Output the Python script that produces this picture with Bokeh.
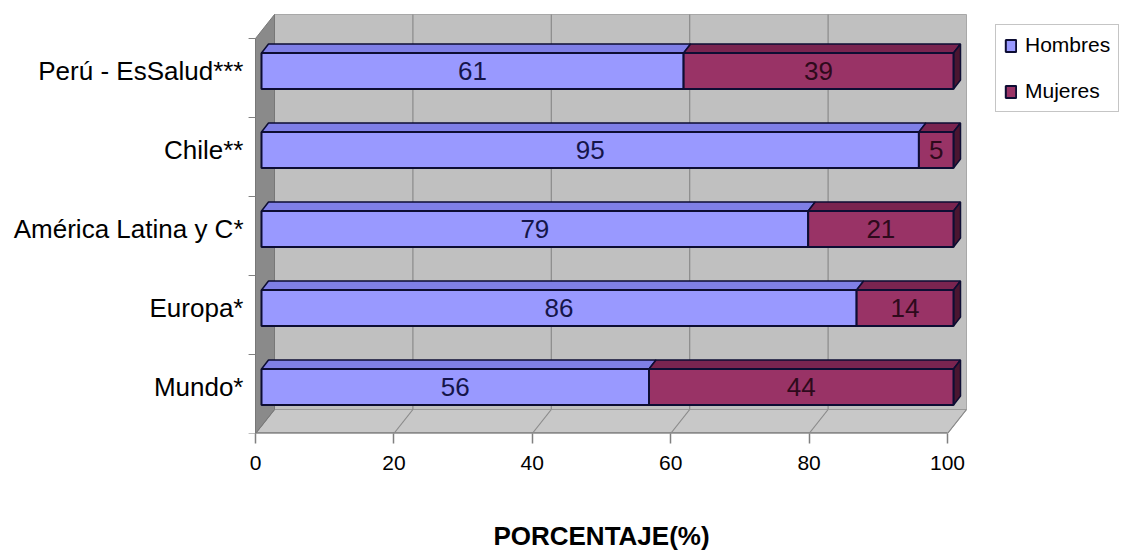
from bokeh.plotting import figure
from bokeh.models import Range1d, FixedTicker, Legend, LegendItem
from bokeh.layouts import column
from bokeh.embed import file_html
from bokeh.resources import INLINE
from bokeh.core.properties import value

# ---------------- data ----------------
categories = ["Mundo*", "Europa*", "América Latina y C*", "Chile**", "Perú - EsSalud***"]
hombres = [56, 86, 79, 95, 61]
mujeres = [44, 14, 21, 5, 39]
x_ticks = [0, 20, 40, 60, 80, 100]
series_names = ["Hombres", "Mujeres"]
x_title = "PORCENTAJE(%)"

# ---------------- style ----------------
FONT = "'Liberation Sans Narrow', 'Arial Narrow', 'Liberation Sans', sans-serif"
C_H, C_H_TOP = "#9999ff", "#7f7fe6"
C_M, C_M_TOP, C_M_SIDE = "#993366", "#7a2450", "#4a1530"
EDGE = "#0d0d33"

W, H = 1123, 554
MAIN_H = 483
LEFT_PAD, BOTTOM_PAD = 246, 50
PX_X, PX_Y = 6.92, 79.0          # pixels per unit
x_start = -(255 - LEFT_PAD) / PX_X
x_end = x_start + (W - LEFT_PAD) / PX_X
y_start = -0.5 - 7 / PX_Y
y_end = y_start + (MAIN_H - BOTTOM_PAD) / PX_Y

WX, WY = 19 / PX_X, 24 / PX_Y    # wall depth
BX = 6 / PX_X                    # bar face shift
BH = 36 / PX_Y                   # bar face height
DX, DY = 7 / PX_X, 9 / PX_Y      # bar depth

n = len(categories)
ys = list(range(n))
fb, ft = y_start, y_start + n    # front plane bottom/top
vmax = x_ticks[-1]

xr = Range1d(x_start, x_end)
p = figure(width=W, height=MAIN_H, x_range=xr, y_range=Range1d(y_start, y_end),
           output_backend="svg", toolbar_location=None,
           min_border_left=LEFT_PAD, min_border_right=0, min_border_top=0,
           min_border_bottom=BOTTOM_PAD)
p.xgrid.visible = False
p.ygrid.visible = False
p.outline_line_color = None
p.background_fill_color = "white"

# back wall
p.quad(left=WX, right=vmax + WX, bottom=fb + WY, top=ft + WY, fill_color="#c0c0c0", line_color="#a8a8a8")
inner = x_ticks[1:-1]
p.segment(x0=[v + WX for v in inner], y0=[fb + WY] * len(inner), x1=[v + WX for v in inner],
          y1=[ft + WY] * len(inner), line_color="#8a8a8a", line_width=1.2)
# floor
p.patch([0, vmax, vmax + WX, WX], [fb, fb, fb + WY, fb + WY], fill_color="#c8c8c8", line_color="#9a9a9a")
p.segment(x0=x_ticks, y0=[fb] * len(x_ticks), x1=[v + WX for v in x_ticks], y1=[fb + WY] * len(x_ticks),
          line_color="#8a8a8a", line_width=1.2)
p.segment(x0=[0], y0=[fb], x1=[vmax], y1=[fb], line_color="#8a8a8a", line_width=3)
# left wall
p.patch([0, WX, WX, 0], [fb, fb + WY, ft + WY, ft], fill_color="#8a8a8a", line_color="#777777")
# category separator ticks
p.segment(x0=[-1.0] * (n + 1), y0=[fb + k for k in range(n + 1)], x1=[0] * (n + 1),
          y1=[fb + k for k in range(n + 1)], line_color="#808080", line_width=1.2)

# bars
tot = [h + m for h, m in zip(hombres, mujeres)]
h_left = [BX] * n
h_right = [BX + h for h in hombres]
m_left = h_right
m_right = [BX + t for t in tot]

def top_faces(lefts, rights):
    xs = [[l, r, r + DX, l + DX] for l, r in zip(lefts, rights)]
    yy = [[y + BH / 2, y + BH / 2, y + BH / 2 + DY, y + BH / 2 + DY] for y in ys]
    return xs, yy

xs, yy = top_faces(h_left, h_right)
p.patches(xs, yy, fill_color=C_H_TOP, line_color=EDGE, line_width=1.5)
xs, yy = top_faces(m_left, m_right)
p.patches(xs, yy, fill_color=C_M_TOP, line_color=EDGE, line_width=1.5)
p.patches([[r, r + DX, r + DX, r] for r in m_right],
          [[y - BH / 2, y - BH / 2 + DY, y + BH / 2 + DY, y + BH / 2] for y in ys],
          fill_color=C_M_SIDE, line_color=EDGE, line_width=1.5)

rH = p.hbar(y=ys, left=h_left, right=h_right, height=BH, fill_color=C_H, line_color=EDGE, line_width=2)
rM = p.hbar(y=ys, left=m_left, right=m_right, height=BH, fill_color=C_M, line_color=EDGE, line_width=2)

p.text(x=[(l + r) / 2 for l, r in zip(h_left, h_right)], y=ys, text=[str(v) for v in hombres],
       text_align="center", text_baseline="middle", text_font=value(FONT), text_font_size="26px",
       text_color="#15154a")
p.text(x=[(l + r) / 2 for l, r in zip(m_left, m_right)], y=ys, text=[str(v) for v in mujeres],
       text_align="center", text_baseline="middle", text_font=value(FONT), text_font_size="26px",
       text_color="#2e0a1c")

# axes
xa = p.xaxis[0]
xa.ticker = FixedTicker(ticks=x_ticks)
xa.axis_line_color = None
xa.major_tick_line_color = "#808080"
xa.major_tick_line_width = 1.5
xa.major_tick_out = 10
xa.major_tick_in = 0
xa.minor_tick_line_color = None
xa.major_label_text_font = FONT
xa.major_label_text_font_size = "21px"
xa.major_label_text_color = "black"
xa.major_label_standoff = 12

ya = p.yaxis[0]
ya.ticker = FixedTicker(ticks=ys)
ya.major_label_overrides = {i: c for i, c in zip(ys, categories)}
ya.axis_line_color = None
ya.major_tick_line_color = None
ya.minor_tick_line_color = None
ya.major_tick_out = 0
ya.major_tick_in = 0
ya.major_label_standoff = 3
ya.major_label_text_font = FONT
ya.major_label_text_font_size = "26px"
ya.major_label_text_color = "black"

legend = Legend(items=[LegendItem(label=series_names[0], renderers=[rH]),
                       LegendItem(label=series_names[1], renderers=[rM])],
                location=(749, 321), orientation="vertical")
legend.border_line_color = "#8c8c8c"
legend.border_line_width = 1
legend.background_fill_color = "white"
legend.background_fill_alpha = 1
legend.padding = 8
legend.spacing = 22
legend.margin = 0
legend.glyph_width = 13
legend.glyph_height = 15
legend.label_height = 24
legend.label_standoff = 8
legend.label_text_font = FONT
legend.label_text_font_size = "21px"
legend.label_text_color = "black"
p.add_layout(legend)

# strip below holding the axis title, sharing the x scale
TITLE_H = H - MAIN_H
p2 = figure(width=W, height=TITLE_H, x_range=xr, y_range=Range1d(0, TITLE_H),
            output_backend="svg", toolbar_location=None, x_axis_location=None, y_axis_location=None,
            min_border_left=LEFT_PAD, min_border_right=0, min_border_top=0, min_border_bottom=0)
p2.xgrid.visible = False
p2.ygrid.visible = False
p2.outline_line_color = None
p2.text(x=[vmax / 2], y=[TITLE_H - 52], text=[x_title], text_align="center", text_baseline="middle",
        text_font=value(FONT), text_font_style="bold", text_font_size="26px", text_color="black")

layout = column(p, p2, spacing=0)
open("out.html", "w").write(file_html(layout, INLINE))
